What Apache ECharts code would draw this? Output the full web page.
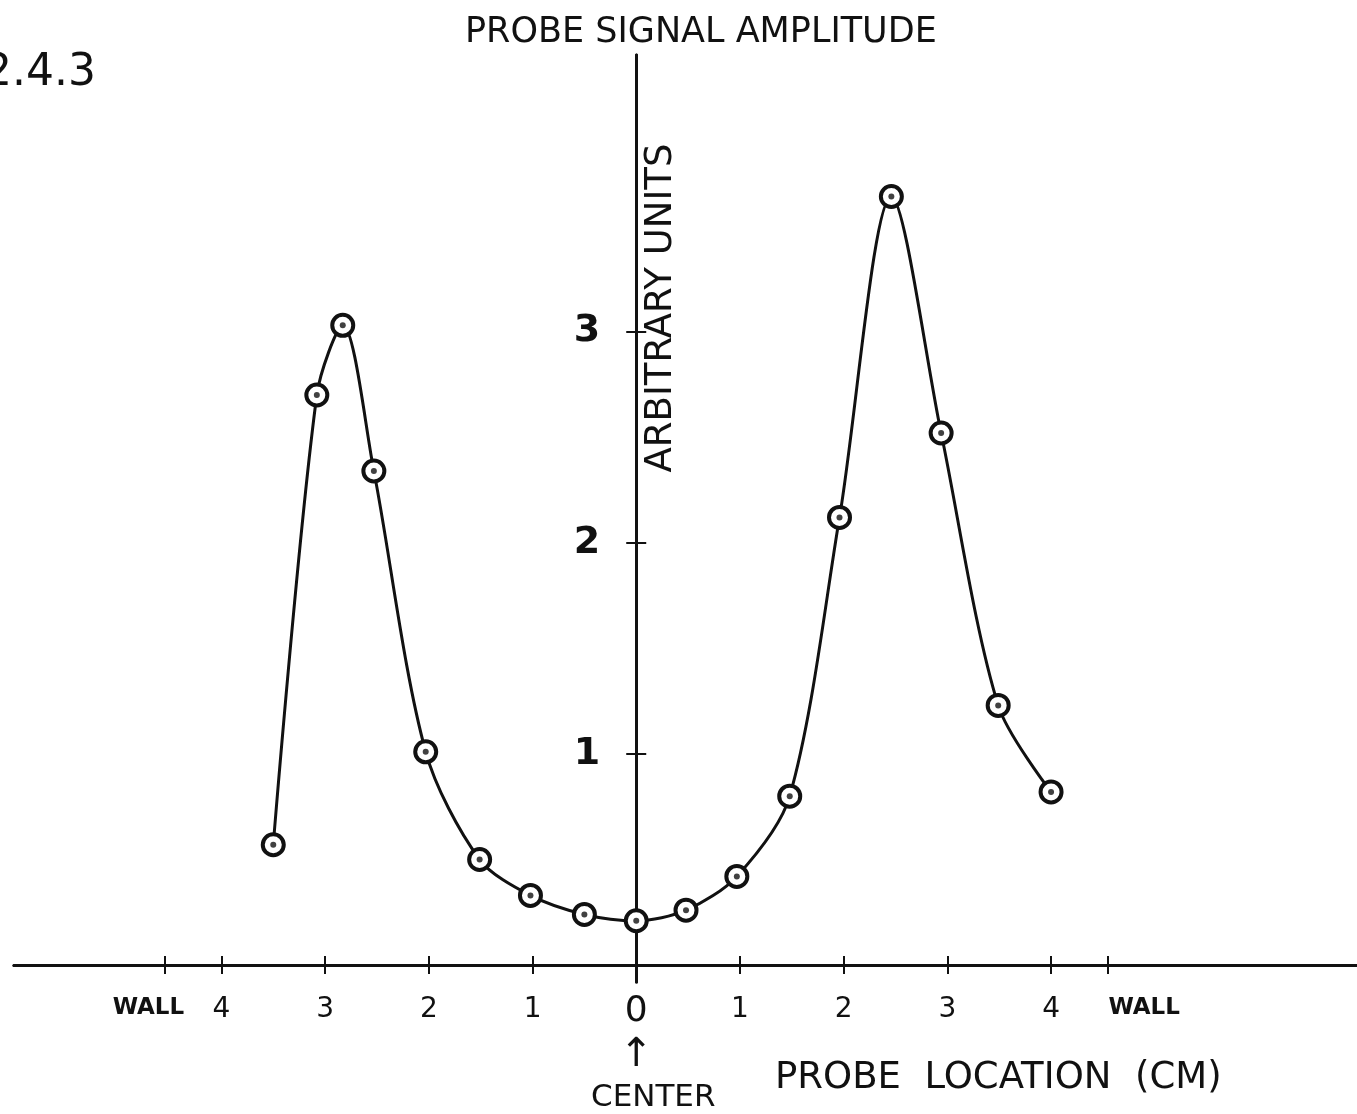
<!DOCTYPE html>
<html>
<head>
    <meta charset="UTF-8">
    <title>Probe signal amplitude</title>
    <style type="text/css">
        html, body { margin:0; padding:0; background:#fff; }
        #main1 { width:1357px; height:1114px; }
    </style>
</head>
<body>
<div id="main1"></div>
<script type="text/javascript" src="https://cdn.jsdelivr.net/npm/echarts@6/dist/echarts.min.js"></script>
<script type="text/javascript">
    // probe location (cm from center) and signal amplitude (arbitrary units)
    var probeLocation = [-3.5, -3.08, -2.83, -2.53, -2.03, -1.51, -1.02, -0.5, 0, 0.48, 0.97, 1.48, 1.96, 2.46, 2.94, 3.49, 4.0];
    var amplitude = [0.57, 2.70, 3.03, 2.34, 1.01, 0.50, 0.33, 0.24, 0.21, 0.26, 0.42, 0.80, 2.12, 3.64, 2.52, 1.23, 0.82];
    var xTicks = [-4.55, -4, -3, -2, -1, 0, 1, 2, 3, 4, 4.55];
    var yTicks = [1, 2, 3];
    var wallPos = 4.55;

    var font = 'DejaVu Sans';
    var ink = '#111';
    var gridLeft = 14, gridRight = 0, gridTop = 55, gridBottom = 132;

    var points = [];
    for (var i = 0; i < probeLocation.length; i++) {
        points.push([probeLocation[i], amplitude[i]]);
    }

    var myChart1 = echarts.init(document.getElementById('main1'));
    var option1 = {
        backgroundColor: '#fff',
        animation: false,
        title: {
            text: 'PROBE SIGNAL AMPLITUDE',
            left: 460, top: 10,
            textStyle: {fontFamily: font, fontSize: 35, fontWeight: 'normal', color: ink}
        },
        grid: {left: gridLeft, right: gridRight, top: gridTop, bottom: gridBottom,
            containLabel: false, outerBoundsMode: 'none'},
        xAxis: [{
            type: 'value', min: -6, max: 6.95, position: 'bottom',
            axisLine: {onZero: false, lineStyle: {color: ink, width: 3}},
            axisTick: {customValues: xTicks, length: 9, lineStyle: {color: ink, width: 2}},
            splitLine: {show: false},
            axisLabel: {
                customValues: xTicks, margin: 31, color: ink, fontFamily: font, fontSize: 28,
                formatter: function (v) {
                    if (v <= -wallPos + 0.01) return '{wl|WALL}';
                    if (v >= wallPos - 0.01) return '{wr|WALL}';
                    if (v === 0) return '{z|0}\n{a|↑}\n{c|CENTER}';
                    return String(Math.abs(v));
                },
                rich: {
                    wl: {fontFamily: font, fontSize: 23, fontWeight: 'bold', color: ink, padding: [0, 32, 0, 0]},
                    wr: {fontFamily: font, fontSize: 23, fontWeight: 'bold', color: ink, padding: [0, 0, 0, 72]},
                    z: {fontFamily: font, fontSize: 36, color: ink, lineHeight: 32},
                    a: {fontFamily: font, fontSize: 40, color: ink, lineHeight: 56},
                    c: {fontFamily: font, fontSize: 31, color: ink, lineHeight: 28, padding: [0, 0, 0, 34]}
                }
            }
        }, {
            type: 'value', min: -6, max: 6.95, position: 'top',
            axisLine: {onZero: false, lineStyle: {color: ink, width: 3}},
            axisTick: {customValues: xTicks, length: 9, lineStyle: {color: ink, width: 2}},
            axisLabel: {show: false},
            splitLine: {show: false}
        }],
        yAxis: [{
            type: 'value', min: -0.08, max: 4.31, position: 'left',
            axisLine: {onZero: false, lineStyle: {color: ink, width: 3}},
            axisTick: {customValues: yTicks, length: 10, lineStyle: {color: ink, width: 2}},
            splitLine: {show: false},
            axisLabel: {
                customValues: yTicks, margin: 36, color: ink, fontFamily: font,
                fontSize: 38, fontWeight: 'bold', padding: [12, 0, 0, 0]
            }
        }, {
            type: 'value', min: -0.08, max: 4.31, position: 'right',
            axisLine: {onZero: false, lineStyle: {color: ink, width: 3}},
            axisTick: {customValues: yTicks, length: 10, lineStyle: {color: ink, width: 2}},
            axisLabel: {show: false},
            splitLine: {show: false}
        }],
        graphic: [{
            type: 'text', left: -16, top: 52,
            style: {text: '2.4.3', fontFamily: font, fontSize: 44, fill: ink}
        }, {
            type: 'text', x: 661, y: 308, rotation: Math.PI / 2,
            style: {text: 'ARBITRARY UNITS', fontFamily: font, fontSize: 37, fill: ink,
                align: 'center', verticalAlign: 'middle'}
        }, {
            type: 'text', left: 775, top: 1060,
            style: {text: 'PROBE  LOCATION  (CM)', fontFamily: font, fontSize: 37, fill: ink}
        }],
        series: [{
            name: 'amplitude',
            type: 'line',
            data: points,
            smooth: 0.3,
            symbol: 'circle',
            symbolSize: 21,
            lineStyle: {color: ink, width: 3},
            itemStyle: {color: '#fff', borderColor: ink, borderWidth: 4},
            z: 3
        }, {
            name: 'dot',
            type: 'scatter',
            data: points,
            symbol: 'circle',
            symbolSize: 6,
            itemStyle: {color: ink},
            z: 4
        }]
    };
    myChart1.setOption(option1);

    // move the axes onto the zero lines, labels included
    var zeroX = myChart1.convertToPixel({xAxisIndex: 0}, 0);
    var zeroY = myChart1.convertToPixel({yAxisIndex: 0}, 0);
    var gridBottomPx = myChart1.getHeight() - gridBottom;
    var gridRightPx = myChart1.getWidth() - gridRight;
    myChart1.setOption({
        xAxis: [{offset: zeroY - gridBottomPx}, {offset: gridTop - zeroY}],
        yAxis: [{offset: gridLeft - zeroX}, {offset: zeroX - gridRightPx}]
    });
</script>
</body>
</html>
